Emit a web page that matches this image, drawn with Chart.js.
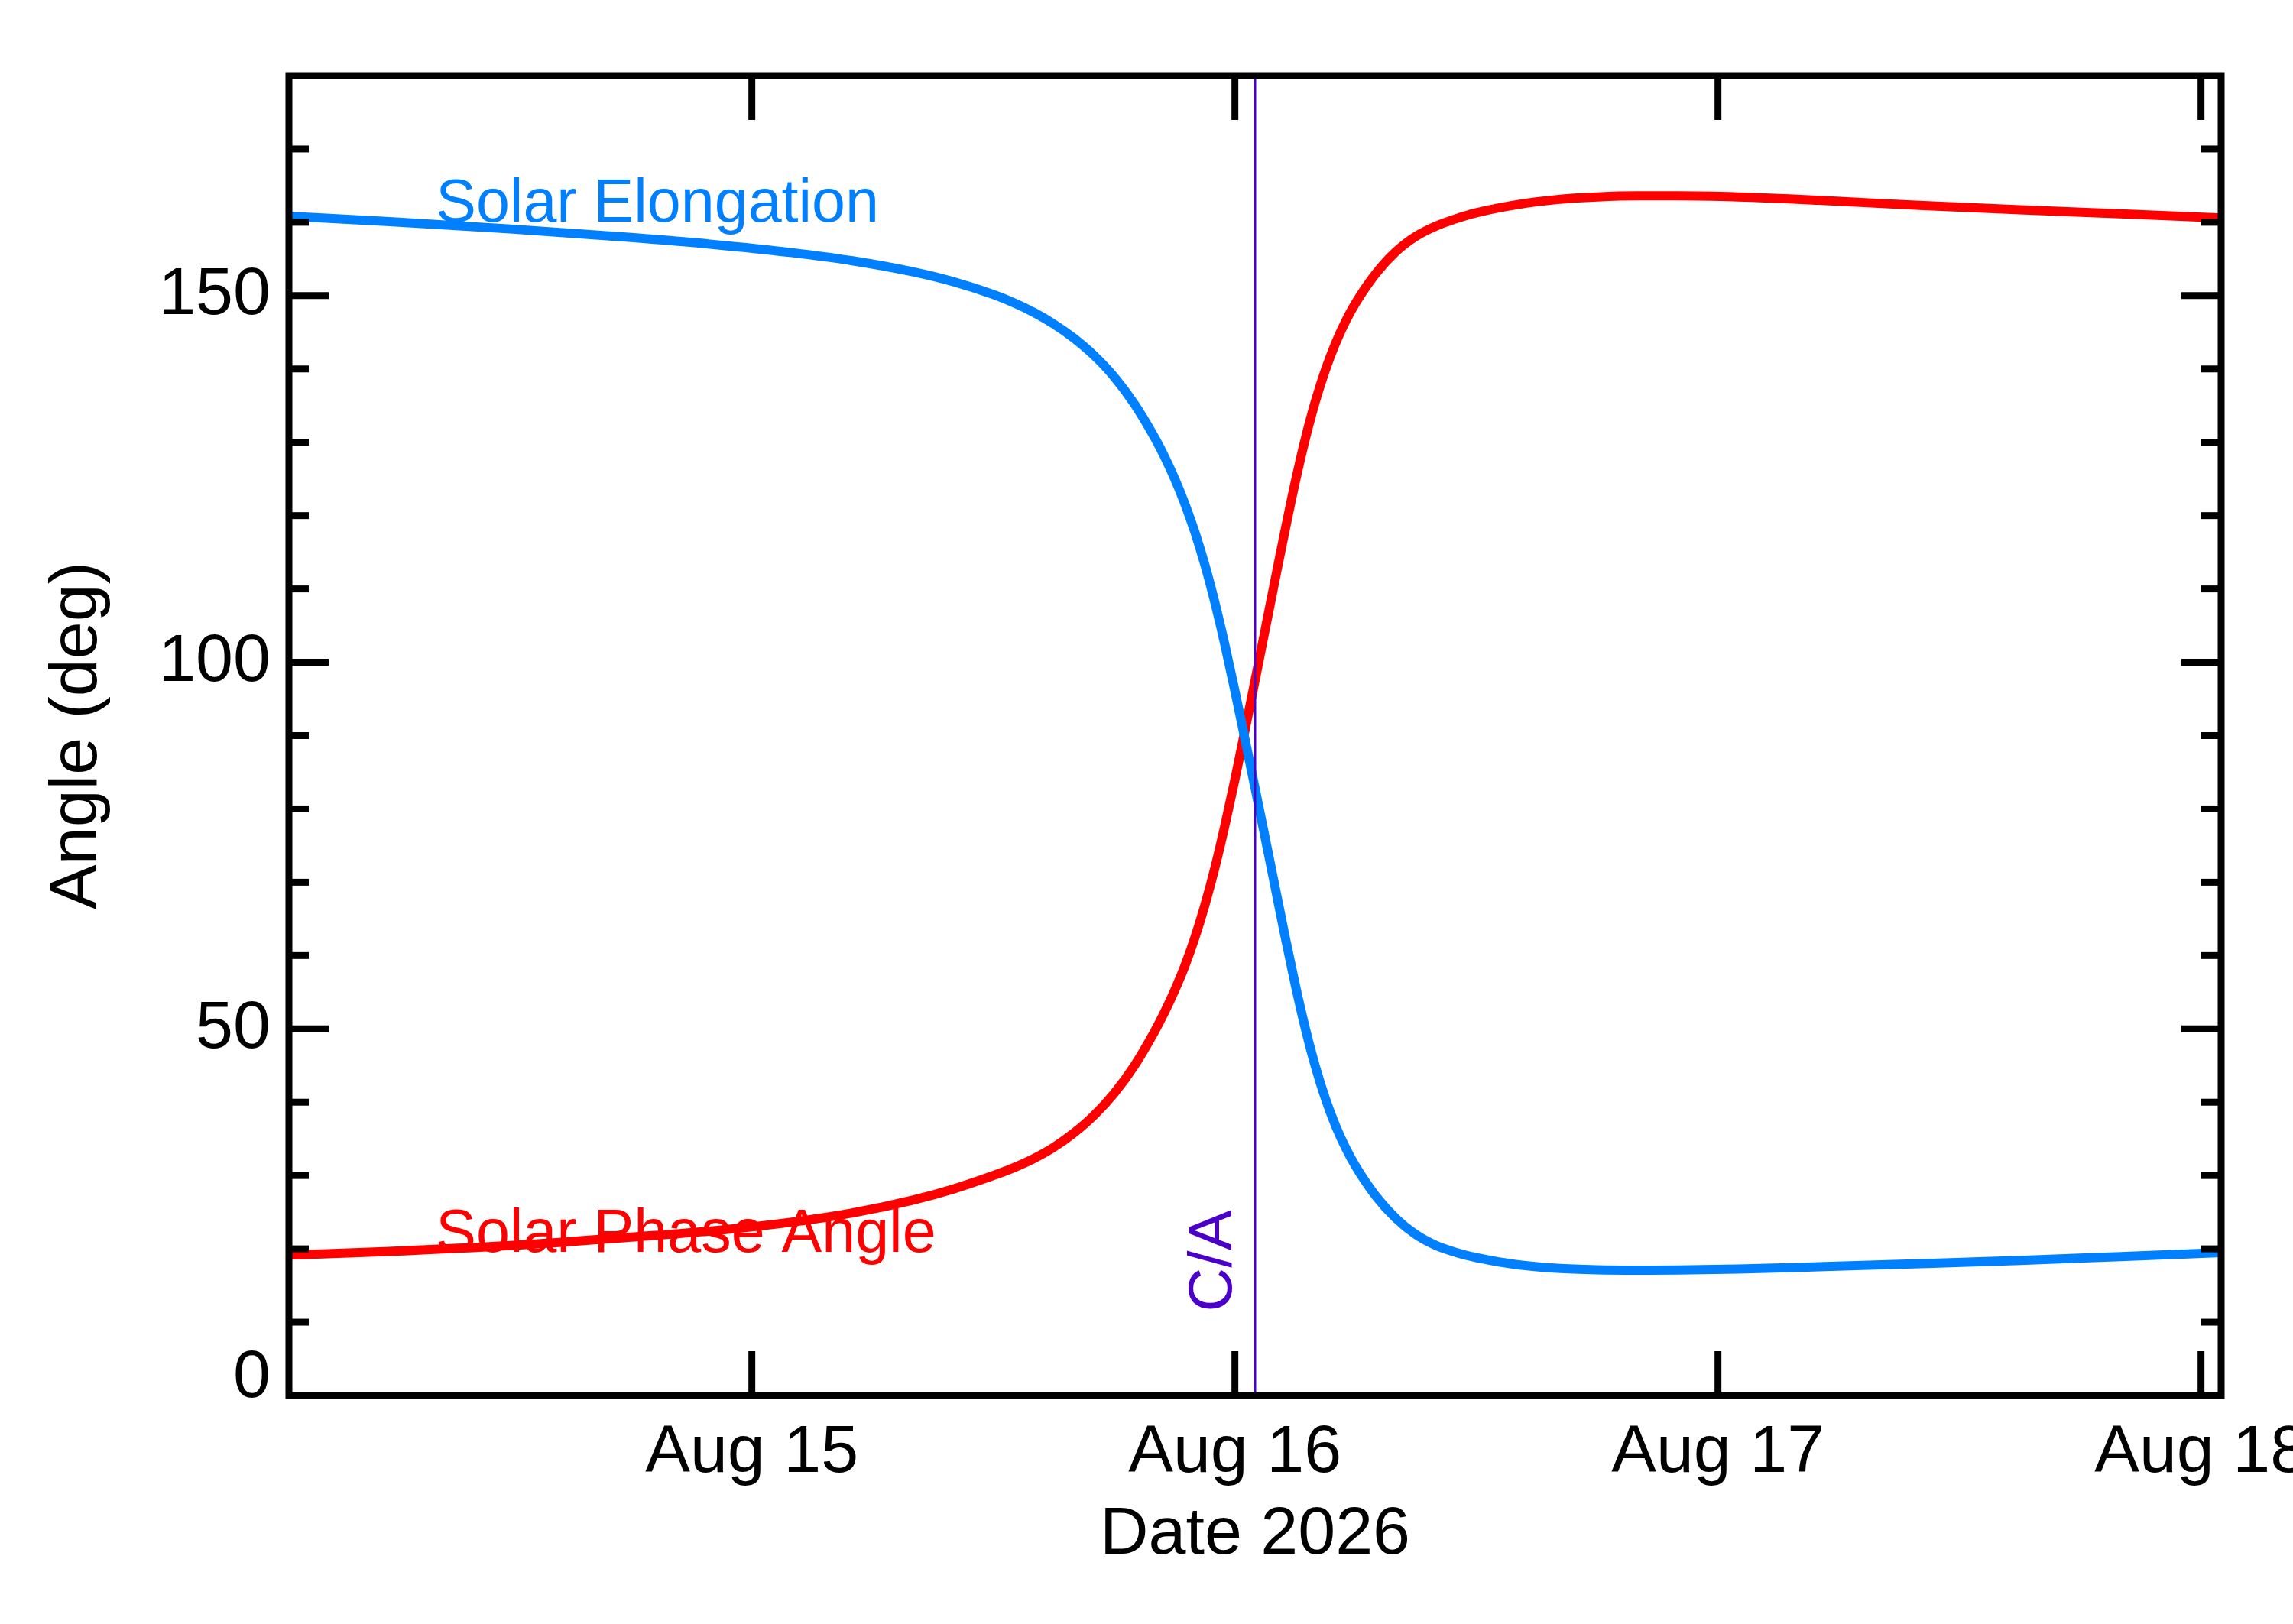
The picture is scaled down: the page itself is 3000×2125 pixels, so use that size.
<!DOCTYPE html>
<html>
<head>
<meta charset="utf-8">
<title>Solar Elongation and Phase Angle</title>
<script src="https://cdn.jsdelivr.net/npm/chart.js@4.4.1/dist/chart.umd.min.js"></script>
<style>
    html, body { margin: 0; padding: 0; background: #fff; overflow: hidden; }
    canvas { display: block; }
</style>
</head>
<body>
<canvas id="angleChart" width="3040" height="2125"></canvas>
<script>
// Hours since 2026-08-14 00:00
const hours = [1, 6, 12, 18, 22, 26, 29, 32, 34, 36, 37, 38, 39, 40, 41, 42, 43,
    44, 44.5, 45, 45.5, 46, 46.5, 47, 47.5, 48, 48.5, 49, 49.5, 50, 50.5, 51, 51.5, 52, 52.5,
    53, 53.5, 54, 55, 56, 57, 58, 59, 60, 62, 64, 66, 68, 70, 73, 77, 82, 87, 92, 97];

const elongation = [160.83, 160.09, 159.09, 157.92, 157.0, 155.86, 154.75, 153.25, 151.91, 150.15,
    149.05, 147.73, 146.13, 144.2, 141.85, 138.93, 135.25,
    130.7, 128.05, 125.08, 121.7, 117.83, 113.35, 108.2, 102.4, 96.1, 89.5,
    82.85, 76.1, 69.3, 62.5, 56.0, 50.05, 44.85, 40.45, 36.8, 33.78, 31.25,
    27.2, 24.15, 21.93, 20.45, 19.5, 18.8,
    17.85, 17.35, 17.15, 17.1, 17.12,
    17.25, 17.55, 17.97, 18.42, 18.95, 19.5];

const phaseAngle = [19.15, 19.65, 20.45, 21.6, 22.45, 23.65, 24.9, 26.65, 28.15, 30.0,
    31.05, 32.3, 33.85, 35.8, 38.2, 41.2, 44.95,
    49.6, 52.25, 55.2, 58.5, 62.35, 66.8, 71.9, 77.7, 84.0, 90.7,
    97.5, 104.4, 111.3, 118.1, 124.6, 130.5, 135.6, 139.9, 143.5, 146.5, 149.0,
    153.0, 156.0, 158.1, 159.5, 160.5, 161.3,
    162.4, 163.1, 163.45, 163.6, 163.6,
    163.45, 163.0, 162.3, 161.7, 161.15, 160.6];

const xTickHours = [24, 48, 72, 96];
const xTickLabels = ['Aug 15', 'Aug 16', 'Aug 17', 'Aug 18'];
const yTickValues = [0, 50, 100, 150];
const yTickMarks = [10, 20, 30, 40, 50, 60, 70, 80, 90, 100, 110, 120, 130, 140, 150, 160, 170];
const closeApproachHour = 49.0;

const FONT = '"Liberation Sans", Arial, Helvetica, sans-serif';
const BLUE = '#0080ff';
const RED = '#ff0000';
const PURPLE = '#4a00c8';

function line(ctx, x1, y1, x2, y2) {
    ctx.beginPath();
    ctx.moveTo(x1, y1);
    ctx.lineTo(x2, y2);
    ctx.stroke();
}

// Curve labels drawn under the lines
const curveLabels = {
    id: 'curveLabels',
    beforeDatasetsDraw(chart) {
        const { ctx, scales: { x, y } } = chart;
        ctx.save();
        ctx.font = '79px ' + FONT;
        ctx.textAlign = 'left';
        ctx.textBaseline = 'alphabetic';
        ctx.fillStyle = BLUE;
        ctx.fillText('Solar Elongation', x.getPixelForValue(8.3), y.getPixelForValue(160.1));
        ctx.fillStyle = RED;
        ctx.fillText('Solar Phase Angle', x.getPixelForValue(8.3), y.getPixelForValue(19.6));
        ctx.restore();
    }
};

// C/A marker, inward ticks and the box
const frame = {
    id: 'frame',
    afterDatasetsDraw(chart) {
        const { ctx, chartArea: a, scales: { x, y } } = chart;
        ctx.save();

        const cx = x.getPixelForValue(closeApproachHour);
        ctx.strokeStyle = PURPLE;
        ctx.lineWidth = 3;
        line(ctx, cx, a.top, cx, a.bottom);

        ctx.save();
        ctx.translate(cx - 31, y.getPixelForValue(11.4));
        ctx.rotate(-Math.PI / 2);
        ctx.font = '80px ' + FONT;
        ctx.fillStyle = PURPLE;
        ctx.textAlign = 'left';
        ctx.textBaseline = 'alphabetic';
        ctx.fillText('C/A', 0, 0);
        ctx.restore();

        ctx.strokeStyle = '#000';
        ctx.lineWidth = 9;
        ctx.lineCap = 'butt';
        yTickMarks.forEach(v => {
            const py = y.getPixelForValue(v);
            const len = v % 50 === 0 ? 52 : 26;
            line(ctx, a.left, py, a.left + len, py);
            line(ctx, a.right, py, a.right - len, py);
        });
        xTickHours.forEach(h => {
            const px = x.getPixelForValue(h);
            line(ctx, px, a.bottom, px, a.bottom - 58);
            line(ctx, px, a.top, px, a.top + 58);
        });

        ctx.strokeRect(a.left, a.top, a.right - a.left, a.bottom - a.top);
        ctx.restore();
    }
};

const ctx = document.getElementById('angleChart').getContext('2d');
new Chart(ctx, {
    type: 'line',
    data: {
        datasets: [
            {
                label: 'Solar Elongation',
                data: hours.map((h, i) => ({ x: h, y: elongation[i] })),
                borderColor: BLUE,
                borderWidth: 12,
                pointRadius: 0,
                cubicInterpolationMode: 'monotone',
                fill: false
            },
            {
                label: 'Solar Phase Angle',
                data: hours.map((h, i) => ({ x: h, y: phaseAngle[i] })),
                borderColor: RED,
                borderWidth: 12,
                pointRadius: 0,
                cubicInterpolationMode: 'monotone',
                fill: false
            }
        ]
    },
    options: {
        responsive: false,
        animation: false,
        devicePixelRatio: 1,
        layout: { padding: { left: 0, right: 134, top: 99, bottom: 0 } },
        plugins: {
            legend: { display: false },
            tooltip: { enabled: false }
        },
        scales: {
            x: {
                type: 'linear',
                min: 1,
                max: 97,
                afterBuildTicks: scale => { scale.ticks = xTickHours.map(v => ({ value: v })); },
                afterFit: scale => { scale.height = 299; },
                grid: { display: false },
                border: { display: false },
                ticks: {
                    padding: 15,
                    color: '#000',
                    maxRotation: 0,
                    autoSkip: false,
                    font: { family: FONT, size: 88, lineHeight: 1.2 },
                    callback: (v, i) => xTickLabels[i]
                },
                title: {
                    display: true,
                    text: 'Date 2026',
                    color: '#000',
                    font: { family: FONT, size: 88, lineHeight: 1.2 },
                    padding: { top: 0, bottom: 63 }
                }
            },
            y: {
                min: 0,
                max: 180,
                afterBuildTicks: scale => { scale.ticks = yTickValues.map(v => ({ value: v })); },
                afterFit: scale => { scale.width = 378; },
                grid: { display: false },
                border: { display: false },
                ticks: {
                    padding: 16,
                    color: '#000',
                    autoSkip: false,
                    // the 0 label sits a little above its tick
                    font: c => ({ family: FONT, size: 88, lineHeight: c.tick && c.tick.value === 0 ? 0.5 : 1.2 }),
                    callback: v => v === 0 ? ['0', ''] : String(v)
                },
                title: {
                    display: true,
                    text: 'Angle (deg)',
                    color: '#000',
                    font: { family: FONT, size: 88, lineHeight: 1.2 },
                    padding: { top: 49, bottom: 0 }
                }
            }
        }
    },
    plugins: [curveLabels, frame]
});
</script>
</body>
</html>
